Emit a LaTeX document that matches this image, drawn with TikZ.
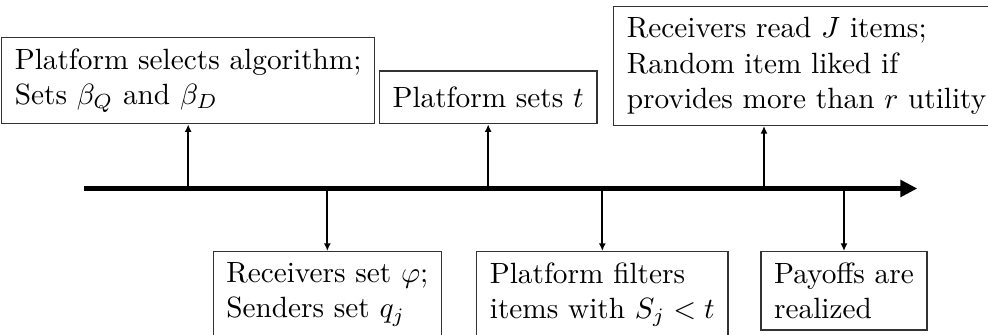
\documentclass[tikz,border=0pt]{standalone}
\usepackage{amsmath,amssymb}
\usepackage{tikz}
\usetikzlibrary{arrows.meta,positioning,calc}

\begin{document}
\begin{tikzpicture}[
  event/.style={rectangle, draw=black!80, align=left, inner xsep=4.5pt, inner ysep=3.8pt, minimum height=18pt},
  timeline/.style={-{Triangle[length=5.8pt,width=5.6pt]}, line width=1.7pt},
  evarr/.style={-{Latex[length=2.6pt,width=2.4pt]}, line width=0.7pt},
]
\useasboundingbox (-1.008,-1.758) rectangle (10.848,2.262);

% Timeline
\coordinate (start) at (0,0);
\coordinate (end) at (10,0);
\draw[timeline] (start) -- (end);

% Points on the timeline
\coordinate (t1) at (1.25,0);
\coordinate (t2) at (2.92,0);
\coordinate (t3) at (4.85,0);
\coordinate (t4) at (6.22,0);
\coordinate (t5) at (8.16,0);
\coordinate (t6) at (9.12,0);

% Events above
\node[event, anchor=south] (alg) at (1.25,0.77) {Platform selects algorithm;\\Sets $\beta_Q$ and $\beta_D$};
\node[event, anchor=south] (thr) at (4.85,0.77) {Platform sets $t$};
\node[event, anchor=south west] (read) at (6.35,0.75) {Receivers read $J$ items;\\Random item liked if\\provides more than $r$ utility};

% Events below
\node[event, anchor=north] (set) at (2.92,-0.75) {Receivers set $\varphi$;\\Senders set $q_j$};
\node[event, anchor=north] (filt) at (6.22,-0.75) {Platform filters\\items with $S_j < t$};
\node[event, anchor=north] (pay) at (9.12,-0.75) {Payoffs are\\realized};

% Arrows
\draw[evarr] (t1) -- (alg);
\draw[evarr] (t3) -- (thr);
\draw[evarr] (t5) -- (t5 |- read.south);
\draw[evarr] (t2) -- (set);
\draw[evarr] (t4) -- (filt);
\draw[evarr] (t6) -- (pay);

\end{tikzpicture}
\end{document}
